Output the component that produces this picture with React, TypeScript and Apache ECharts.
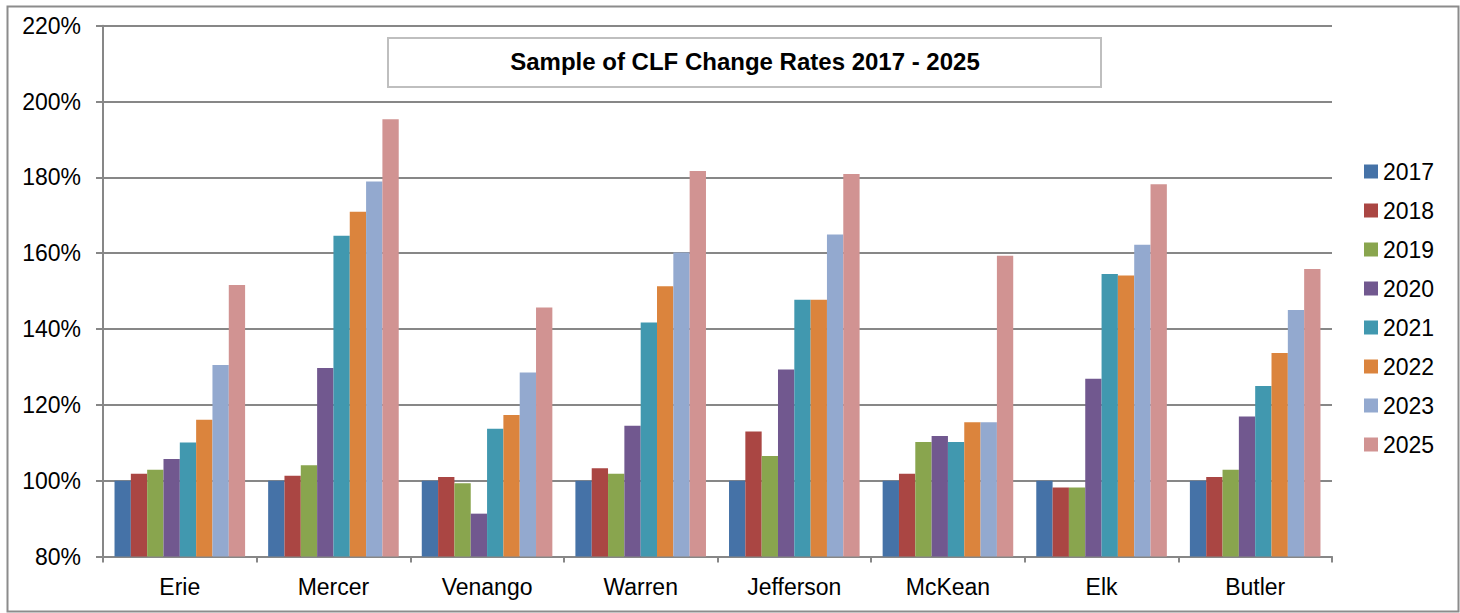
import React, { useEffect, useRef } from "react";
import * as echarts from "echarts";

const counties = ["Erie", "Mercer", "Venango", "Warren", "Jefferson", "McKean", "Elk", "Butler"];
const years = ["2017", "2018", "2019", "2020", "2021", "2022", "2023", "2025"];
const yearColors = ["#4572A7", "#AA4643", "#89A54E", "#71588F", "#4198AF", "#DB843D", "#93A9CF", "#D19392"];

const v2017 = [100, 100, 100, 100, 100, 100, 100, 100];
const v2018 = [101.8, 101.3, 101.0, 103.3, 113.0, 101.8, 98.2, 101.0];
const v2019 = [102.9, 104.1, 99.3, 101.8, 106.5, 110.2, 98.2, 102.9];
const v2020 = [105.7, 129.7, 91.3, 114.5, 129.3, 111.8, 126.9, 116.9];
const v2021 = [110.1, 164.6, 113.7, 141.7, 147.7, 110.2, 154.5, 125.0];
const v2022 = [116.1, 170.9, 117.3, 151.3, 147.7, 115.4, 154.1, 133.7];
const v2023 = [130.5, 178.9, 128.5, 160.2, 164.9, 115.4, 162.2, 145.0];
const v2025 = [151.6, 195.3, 145.7, 181.7, 180.9, 159.3, 178.2, 155.8];
const seriesValues = [v2017, v2018, v2019, v2020, v2021, v2022, v2023, v2025];

const yTicks = { min: 80, max: 220, interval: 20 };
const titleText = "Sample of CLF Change Rates 2017 - 2025";

const FONT = "'Liberation Sans', Arial, sans-serif";
const GRID_COLOR = "#878787";

export default function App() {
  const ref = useRef<HTMLDivElement>(null);

  useEffect(() => {
    if (!ref.current) return;
    const chart = echarts.init(ref.current, null, { renderer: "svg" });
    chart.setOption({
      animation: false,
      backgroundColor: "#ffffff",
      textStyle: { fontFamily: FONT },
      grid: { left: 103, right: 128, top: 25.7, bottom: 56.5, containLabel: false },
      legend: {
        orient: "vertical",
        left: 1364,
        top: 160,
        padding: 0,
        itemWidth: 14,
        itemHeight: 14,
        itemGap: 16,
        icon: "rect",
        textStyle: { fontSize: 23, color: "#000", fontFamily: FONT, lineHeight: 23 },
        data: years,
      },
      xAxis: {
        type: "category",
        data: counties,
        axisLine: { lineStyle: { color: GRID_COLOR, width: 2 } },
        axisTick: { show: true, length: 6, lineStyle: { color: GRID_COLOR, width: 2 } },
        axisLabel: { color: "#000", fontSize: 23, margin: 19, fontFamily: FONT },
        splitLine: { show: false },
      },
      yAxis: {
        type: "value",
        min: yTicks.min,
        max: yTicks.max,
        interval: yTicks.interval,
        axisLine: { show: true, lineStyle: { color: GRID_COLOR, width: 2 } },
        axisTick: { show: true, length: 7, lineStyle: { color: GRID_COLOR, width: 2 } },
        axisLabel: { color: "#000", fontSize: 23, margin: 22, formatter: "{value}%", fontFamily: FONT },
        splitLine: { show: true, lineStyle: { color: GRID_COLOR, width: 2 } },
      },
      graphic: [
        {
          type: "rect",
          left: 5,
          top: 4,
          shape: { x: 0, y: 0, width: 1451, height: 605 },
          style: { fill: "none", stroke: "#8c8c8c", lineWidth: 2 },
          silent: true,
          z: 100,
        },
        {
          type: "rect",
          shape: { x: 388, y: 38, width: 713, height: 49 },
          style: { fill: "#ffffff", stroke: "#bfbfbf", lineWidth: 2 },
          z: 100,
        },
        {
          type: "text",
          x: 745,
          y: 61,
          style: {
            text: titleText,
            fontSize: 24,
            fontWeight: "bold",
            fontFamily: FONT,
            fill: "#000",
            align: "center",
            verticalAlign: "middle",
          },
          z: 101,
        },
      ],
      series: years.map((y, i) => ({
        name: y,
        type: "bar",
        data: seriesValues[i],
        barGap: "0%",
        barCategoryGap: "15%",
        itemStyle: { color: yearColors[i] },
      })),
    });
    return () => chart.dispose();
  }, []);

  return (
    <div style={{ position: "fixed", left: 0, top: 0, width: 1460, height: 613, background: "#fff" }}>
      <div ref={ref} style={{ width: 1460, height: 613 }} />
    </div>
  );
}
